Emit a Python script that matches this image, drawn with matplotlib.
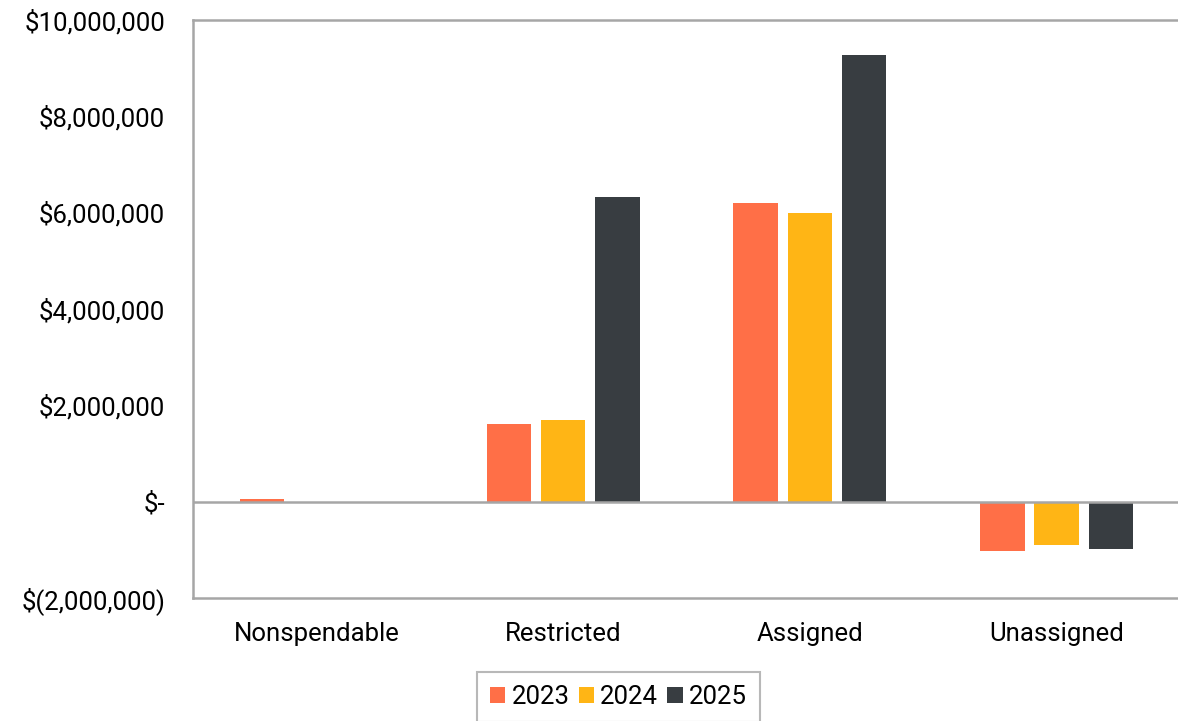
import numpy as np
import matplotlib
matplotlib.use('Agg')
import matplotlib.pyplot as plt
from matplotlib.ticker import FuncFormatter
from matplotlib.patches import Patch

# --- data
categories = ['Nonspendable', 'Restricted', 'Assigned', 'Unassigned']
years      = ['2023', '2024', '2025']
v2023      = [50000, 1620000, 6210000, -1020000]
v2024      = [0, 1700000, 6000000, -890000]
v2025      = [0, 6330000, 9280000, -980000]
colors     = ['#FF6F47', '#FFB515', '#383D41']

plt.rcParams['font.family'] = ['Roboto', 'DejaVu Sans']

fig = plt.figure(figsize=(11.78, 7.21), dpi=100)
ax = fig.add_axes([0.1638, 0.1706, 0.8379, 0.8017])

x = np.arange(len(categories))
width = 0.18
offsets = [-0.22, 0.0, 0.22]
for series, off, c in zip([v2023, v2024, v2025], offsets, colors):
    ax.bar(x + off, series, width, color=c, zorder=2)

ax.axhline(0, color='#A6A6A6', lw=1.8, zorder=3)

ax.set_xlim(-0.5, 3.5)
ax.set_ylim(-2000000, 10000000)
ax.set_yticks(np.arange(-2000000, 10000001, 2000000))

def money(v, pos):
    if v == 0:
        return '$-'
    if v < 0:
        return '$(%s)' % format(int(-v), ',')
    return '$' + format(int(v), ',')

ax.yaxis.set_major_formatter(FuncFormatter(money))
ax.set_xticks(x)
ax.set_xticklabels(categories)
ax.tick_params(axis='both', length=0, labelsize=18.5, colors='#000000')
ax.tick_params(axis='y', pad=20)
ax.tick_params(axis='x', pad=17)

for side in ['left', 'top', 'bottom', 'right']:
    ax.spines[side].set_color('#A6A6A6')
    ax.spines[side].set_linewidth(1.8)

handles = [Patch(facecolor=c, edgecolor='none') for c in colors]
leg = fig.legend(handles, years, loc='upper center', bbox_to_anchor=(0.525, 0.068),
                 ncol=3, fontsize=18.5, frameon=True, fancybox=False,
                 handlelength=0.6, handleheight=0.6, handletextpad=0.25,
                 columnspacing=0.35, borderpad=0.5, borderaxespad=0)
leg.get_frame().set_edgecolor('#A6A6A6')
leg.get_frame().set_linewidth(1.5)

fig.savefig('out.png', dpi=100)
